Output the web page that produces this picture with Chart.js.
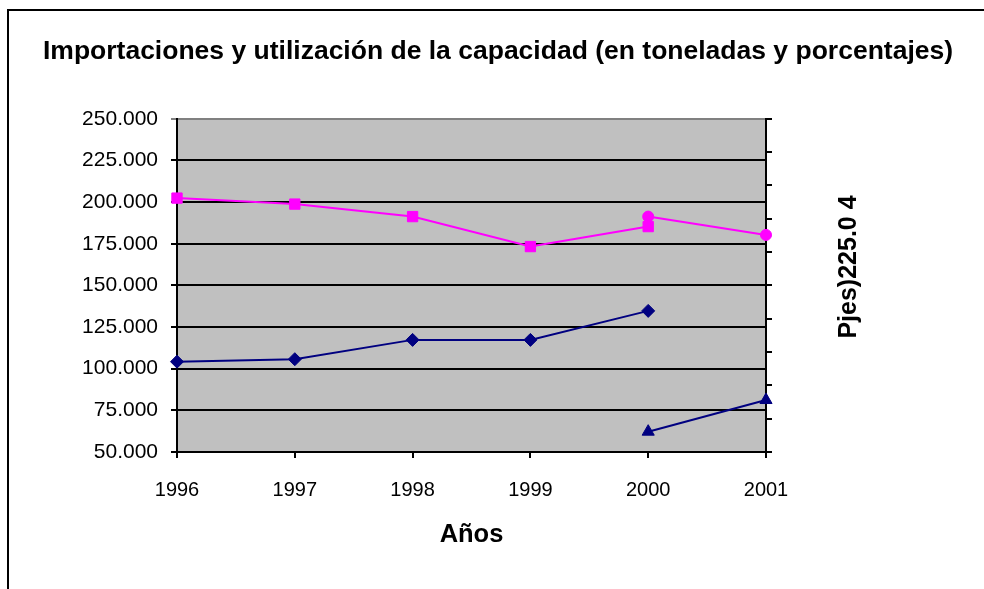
<!DOCTYPE html>
<html>
<head>
<meta charset="utf-8">
<script src="https://cdn.jsdelivr.net/npm/chart.js@4.4.0/dist/chart.umd.min.js"></script>
<style>
    html, body { margin: 0; padding: 0; background: #fff; overflow: hidden; }
    #frame { position: absolute; left: 7px; top: 9px; width: 1000px; height: 600px; border-left: 2px solid #000; border-top: 2px solid #000; }
    #wrap { position: absolute; left: 0; top: 0; width: 984px; height: 589px; }
</style>
</head>
<body>
<div id="frame"></div>
<div id="wrap"><canvas id="importChart" width="984" height="589"></canvas></div>
<script>
const years = ['1996', '1997', '1998', '1999', '2000', '2001'];
const importsSquares = [202400, 198800, 191300, 173300, 185300, null];
const importsCircles = [null, null, null, null, 191300, 180300];
const navyDiamonds = [104200, 105700, 117300, 117300, 134700, null];
const navyTriangles = [null, null, null, null, 62200, 81200];
const yTickMin = 50000;
const yTickMax = 250000;
const yTickStep = 25000;
const rightTitle = 'Pjes)225.0 4';

const FONT = 'Arial, "Liberation Sans", sans-serif';

function fmtThousands(v) {
    return v.toString().replace(/\B(?=(\d{3})+(?!\d))/g, '.');
}

const plotBackground = {
    id: 'plotBackground',
    beforeDraw(chart) {
        const { ctx, chartArea } = chart;
        ctx.save();
        ctx.fillStyle = '#c0c0c0';
        ctx.fillRect(chartArea.left, chartArea.top, chartArea.right - chartArea.left, chartArea.bottom - chartArea.top);
        ctx.restore();
    }
};

const rightAxisTitle = {
    id: 'rightAxisTitle',
    afterDraw(chart) {
        const ctx = chart.ctx;
        ctx.save();
        ctx.translate(849, 267);
        ctx.rotate(-Math.PI / 2);
        ctx.font = 'bold 25px ' + FONT;
        ctx.fillStyle = '#000';
        ctx.textAlign = 'center';
        ctx.textBaseline = 'middle';
        ctx.fillText(rightTitle, 0, 0);
        ctx.restore();
    }
};

const ctx = document.getElementById('importChart').getContext('2d');
new Chart(ctx, {
    type: 'line',
    data: {
        labels: years,
        datasets: [{
            data: importsSquares,
            borderColor: '#ff00ff',
            backgroundColor: '#ff00ff',
            borderWidth: 2,
            pointStyle: 'rect',
            pointRadius: 7.3,
            pointBorderWidth: 1
        }, {
            data: importsCircles,
            borderColor: '#ff00ff',
            backgroundColor: '#ff00ff',
            borderWidth: 2,
            pointStyle: 'circle',
            pointRadius: 5.5,
            pointBorderWidth: 1
        }, {
            data: navyDiamonds,
            borderColor: '#000080',
            backgroundColor: '#000080',
            borderWidth: 2,
            pointStyle: 'rectRot',
            pointRadius: 6.5,
            pointBorderWidth: 1
        }, {
            data: navyTriangles,
            borderColor: '#000080',
            backgroundColor: '#000080',
            borderWidth: 2,
            pointStyle: 'triangle',
            pointRadius: 7,
            pointBorderWidth: 1
        }]
    },
    options: {
        responsive: false,
        animation: false,
        layout: {
            padding: { left: 12, right: 0, top: 0, bottom: 0 }
        },
        plugins: {
            legend: { display: false },
            tooltip: { enabled: false },
            title: {
                display: true,
                text: 'Importaciones y utilización de la capacidad (en toneladas y porcentajes)',
                color: '#000',
                font: { family: FONT, size: 26.5, weight: 'bold', lineHeight: 1.2 },
                padding: { top: 36, bottom: 51 }
            }
        },
        scales: {
            x: {
                offset: false,
                grid: {
                    drawOnChartArea: false,
                    color: '#000',
                    lineWidth: 2,
                    tickLength: 6
                },
                border: { color: '#000', width: 2 },
                ticks: {
                    color: '#000',
                    font: { family: FONT, size: 20 },
                    padding: 20,
                    maxRotation: 0
                },
                title: {
                    display: true,
                    text: 'Años',
                    color: '#000',
                    font: { family: FONT, size: 25.5, weight: 'bold', lineHeight: 1.2 },
                    padding: { top: 0, bottom: 39 }
                },
                afterFit(scale) { scale.height = 137; }
            },
            y: {
                position: 'left',
                min: yTickMin,
                max: yTickMax,
                grid: {
                    color: ctx => (ctx.tick && ctx.tick.value === yTickMax ? '#808080' : '#000'),
                    lineWidth: 2,
                    tickLength: 6
                },
                border: { color: '#000', width: 2 },
                ticks: {
                    stepSize: yTickStep,
                    color: '#000',
                    font: { family: FONT, size: 21 },
                    padding: 13,
                    callback: v => fmtThousands(v)
                },
                afterFit(scale) { scale.width = 165; }
            },
            y1: {
                position: 'right',
                min: 0,
                max: 100,
                grid: {
                    drawOnChartArea: false,
                    color: '#000',
                    lineWidth: 2,
                    tickLength: 6
                },
                border: { color: '#000', width: 2 },
                ticks: {
                    stepSize: 10,
                    callback: () => ''
                },
                afterFit(scale) { scale.width = 218; }
            }
        }
    },
    plugins: [plotBackground, rightAxisTitle]
});
</script>
</body>
</html>
